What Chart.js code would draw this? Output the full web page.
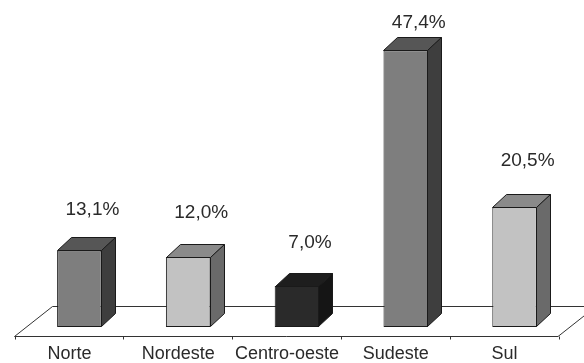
<!DOCTYPE html>
<html>
<head>
<meta charset="utf-8">
<script src="https://cdn.jsdelivr.net/npm/chart.js@4/dist/chart.umd.min.js"></script>
<style>
  html, body { margin: 0; padding: 0; background: #ffffff; }
  #wrap { width: 584px; height: 363px; position: relative; }
</style>
</head>
<body>
<div id="wrap"><canvas id="chart"></canvas></div>
<script>
// Regional shares (%)
const regions = ['Norte', 'Nordeste', 'Centro-oeste', 'Sudeste', 'Sul'];
const shares = [13.1, 12.0, 7.0, 47.4, 20.5];

// Face shades for each bar: front, top, side
const frontShade = ['#7e7e7e', '#c2c2c2', '#2a2a2a', '#7e7e7e', '#c2c2c2'];
const topShade   = ['#565656', '#8a8a8a', '#1e1e1e', '#565656', '#8a8a8a'];
const sideShade  = ['#3e3e3e', '#6a6a6a', '#151515', '#3e3e3e', '#6a6a6a'];
// How far each percentage sits above its bar's back edge
const labelLift  = [28, 31, 30, 14, 34];

const DEPTH_X = 14, DEPTH_Y = -13;

const fmt = v => v.toFixed(1).replace('.', ',') + '%';

// Floor slab, extruded bar faces and value labels
const pseudo3d = {
  id: 'pseudo3d',
  beforeDatasetsDraw(chart) {
    const ctx = chart.ctx;
    const { left, right, bottom } = chart.chartArea;
    const step = (right - left) / regions.length;
    const fx0 = left - 10.5, fx1 = right - 11, fy = Math.round(bottom + 9) + 0.5;
    const bx = 38, by = -30;
    ctx.save();
    ctx.strokeStyle = '#333333';
    ctx.lineWidth = 1;
    ctx.fillStyle = '#ffffff';
    ctx.beginPath();
    ctx.moveTo(fx0, fy);
    ctx.lineTo(fx1, fy);
    ctx.lineTo(fx1 + bx, fy + by);
    ctx.lineTo(fx0 + bx, fy + by);
    ctx.closePath();
    ctx.fill();
    ctx.stroke();
    // small ticks on the front edge at category boundaries
    for (let i = 0; i <= regions.length; i++) {
      const tx = Math.round(left + i * step - 10.5) + 0.5;
      ctx.beginPath();
      ctx.moveTo(tx, fy);
      ctx.lineTo(tx, fy + 3);
      ctx.stroke();
    }
    ctx.restore();
  },
  afterDatasetsDraw(chart) {
    const ctx = chart.ctx;
    const meta = chart.getDatasetMeta(0);
    ctx.save();
    ctx.lineWidth = 1;
    ctx.strokeStyle = '#1a1a1a';
    ctx.lineJoin = 'miter';
    meta.data.forEach((bar, i) => {
      const p = bar.getProps(['x', 'y', 'base', 'width'], true);
      const l = Math.round(p.x - p.width / 2) + 0.5;
      const r = Math.round(p.x + p.width / 2) - 0.5;
      const t = Math.round(p.y) + 0.5;
      const b = Math.round(p.base) - 0.5;
      // top face
      ctx.fillStyle = topShade[i];
      ctx.beginPath();
      ctx.moveTo(l, t);
      ctx.lineTo(l + DEPTH_X, t + DEPTH_Y);
      ctx.lineTo(r + DEPTH_X, t + DEPTH_Y);
      ctx.lineTo(r, t);
      ctx.closePath();
      ctx.fill();
      ctx.stroke();
      // side face
      ctx.fillStyle = sideShade[i];
      ctx.beginPath();
      ctx.moveTo(r, t);
      ctx.lineTo(r + DEPTH_X, t + DEPTH_Y);
      ctx.lineTo(r + DEPTH_X, b + DEPTH_Y);
      ctx.lineTo(r, b);
      ctx.closePath();
      ctx.fill();
      ctx.stroke();
      // value label
      ctx.fillStyle = '#2a2a2a';
      ctx.font = '19px "Liberation Sans", Arial, sans-serif';
      ctx.textAlign = 'center';
      ctx.textBaseline = 'middle';
      ctx.fillText(fmt(shares[i]), p.x + 13, p.y + DEPTH_Y - labelLift[i]);
    });
    ctx.restore();
  }
};

new Chart(document.getElementById('chart'), {
  type: 'bar',
  data: {
    labels: regions,
    datasets: [{
      data: shares,
      backgroundColor: frontShade,
      borderColor: '#1a1a1a',
      borderWidth: 1,
      borderSkipped: false,
      barPercentage: 0.41,
      categoryPercentage: 1.0
    }]
  },
  options: {
    responsive: true,
    maintainAspectRatio: false,
    animation: false,
    events: [],
    layout: { padding: { left: 25, right: 15, top: 35, bottom: 0 } },
    plugins: {
      legend: { display: false },
      tooltip: { enabled: false },
      title: { display: false }
    },
    scales: {
      x: {
        grid: { display: false, drawTicks: false },
        border: { display: false },
        ticks: {
          color: '#2a2a2a',
          font: { family: '"Liberation Sans", Arial, sans-serif', size: 18 },
          padding: 16,
          labelOffset: -10,
          maxRotation: 0,
          autoSkip: false
        },
        afterFit(scale) { scale.height = 36; }
      },
      y: {
        display: false,
        min: 0,
        max: 50
      }
    }
  },
  plugins: [pseudo3d]
});
</script>
</body>
</html>
